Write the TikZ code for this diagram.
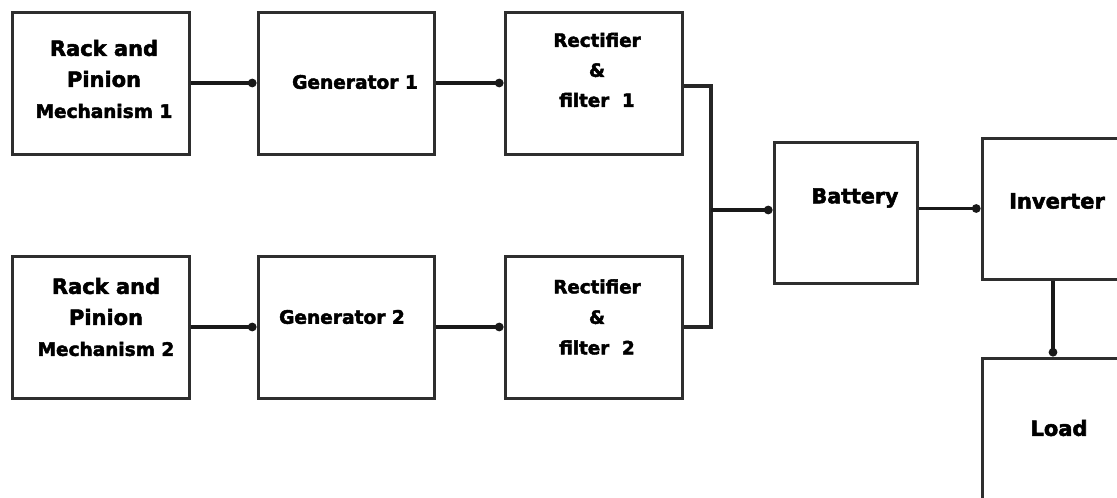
\documentclass[tikz,border=0pt]{standalone}
\usepackage{fontspec}
\setmainfont{DejaVu Sans}[BoldFeatures={FakeBold=2.4}]
\usetikzlibrary{arrows.meta}
\tikzset{
  blk/.style={draw=black!82, line width=3pt, inner sep=0pt, minimum width=177pt, minimum height=142pt, fill=white},
  lbl/.style={align=center, inner sep=0pt, font=\bfseries\fontsize{21}{31}\selectfont},
  conn/.style={draw=black!90, line width=3.8pt, -{Circle[length=8.5pt,width=8.5pt]}},
  wire/.style={draw=black!85, line width=3.2pt, line join=miter}
}
\begin{document}
\begin{tikzpicture}[x=1pt,y=-1pt]
\useasboundingbox (0,0) rectangle (1117,498);
\clip (0,0) rectangle (1117,498);
% boxes
\node[blk] (rack1) at (100.5,83) {};
\node[blk, minimum width=176pt] (gen1) at (346,83) {};
\node[blk] (rect1) at (593.5,83) {};
\node[blk] (rack2) at (100.5,327) {};
\node[blk, minimum width=176pt] (gen2) at (346,327) {};
\node[blk] (rect2) at (593.5,327) {};
\node[blk, minimum width=143pt, minimum height=141pt] (bat) at (845.5,212.5) {};
\node[blk, minimum width=153pt, minimum height=141pt] (inv) at (1058.5,208.5) {};
\node[blk, minimum width=153pt, minimum height=142pt] (load) at (1058.5,429) {};
% labels
\node[lbl] (t1) at (104,79) {Rack and\\Pinion\\{\fontsize{18.5}{31}\selectfont Mechanism 1}};
\node[lbl] (t2) at (106,317) {Rack and\\Pinion\\{\fontsize{18.5}{31}\selectfont Mechanism 2}};
\node[lbl, font=\bfseries\fontsize{18.6}{31}\selectfont] (t3) at (355,82) {Generator 1};
\node[lbl, font=\bfseries\fontsize{18.6}{31}\selectfont] (t4) at (342,317) {Generator 2};
\node[lbl, font=\bfseries\fontsize{18.3}{30}\selectfont] (t5) at (597,70) {Rectifier\\\&\\filter\ \ 1};
\node[lbl, font=\bfseries\fontsize{18.3}{30.5}\selectfont] (t6) at (597,317) {Rectifier\\\&\\filter\ \ 2};
\node[lbl, font=\bfseries\fontsize{20.6}{31}\selectfont] (t7) at (855,198) {Battery};
\node[lbl] (t8) at (1057,201) {Inverter};
\node[lbl] (t9) at (1059,428) {Load};
% connectors
\coordinate (bus) at (711,210);
\draw[conn] (rack1.east) -- (gen1.west);
\draw[conn] (gen1.east) -- (rect1.west);
\draw[conn] (rack2.east) -- (gen2.west);
\draw[conn] (gen2.east) -- (rect2.west);
\draw[wire] ([yshift=-3pt]rect1.east) -| (bus) |- (rect2.east);
\draw[conn] (bus) -- (bus -| bat.west);
\draw[conn] (bat.east |- inv.west) -- (inv.west);
\draw[conn, line width=3.2pt] ([xshift=-5.5pt]inv.south) -- ([xshift=-5.5pt]load.north);
\end{tikzpicture}
\end{document}
